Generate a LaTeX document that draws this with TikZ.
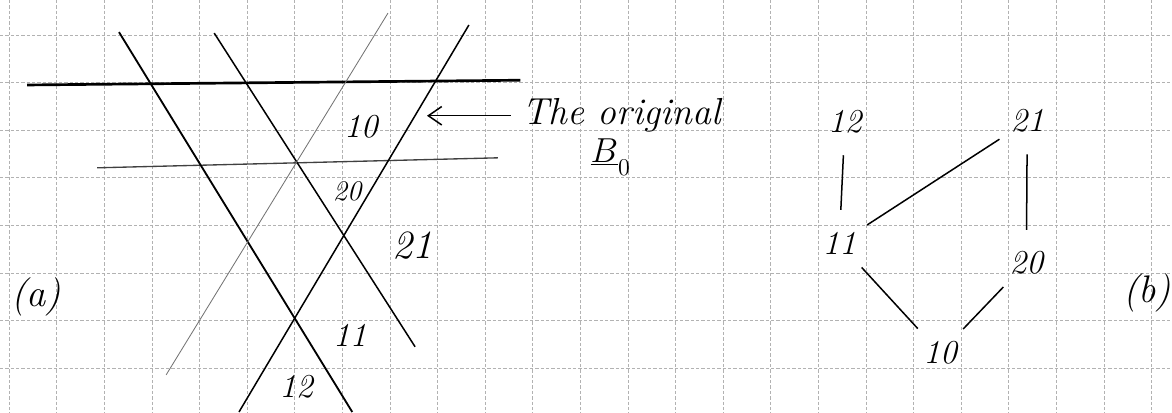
\documentclass[tikz,border=0pt]{standalone}
\usetikzlibrary{arrows.meta}

\begin{document}
\begin{tikzpicture}[x=1cm,y=-1cm,font=\fontsize{20}{24}\selectfont\itshape,
  gridline/.style={gray!60,line width=0.4pt,dash pattern=on 2pt off 1.2pt},
  pen/.style={line width=0.9pt},
  vert/.style={circle,minimum size=1.38cm,inner sep=0pt}]
  \useasboundingbox (-0.19,-0.735) rectangle (24.43,7.94);
  % squared paper
  \foreach \c in {0,...,24}
    \draw[gridline] (\c,-0.735) -- (\c,7.94);
  \foreach \r in {0,...,7}
    \draw[gridline] (-0.19,\r) -- (24.43,\r);

  % (a): the lines
  \draw[line width=1.6pt] (0.38,1.05) -- (10.74,0.95);
  \draw[line width=0.8pt,black!75] (1.85,2.79) -- (10.27,2.58);
  \draw[line width=1.1pt] (2.31,-0.06) -- (7.21,7.92);
  \draw[pen] (4.31,-0.04) -- (8.53,6.55);
  \draw[line width=0.5pt,black!55] (7.96,-0.46) -- (3.30,7.14);
  \draw[pen] (9.66,-0.21) -- (4.83,7.92);
  % labels
  \node (a10) at (7.39,1.93) {10};
  \node[font=\fontsize{17}{20}\selectfont\itshape] (a20) at (7.10,3.28) {20};
  \node[font=\fontsize{24}{28}\selectfont\itshape] (a21) at (8.47,4.43) {21};
  \node (a11) at (7.16,6.30) {11};
  \node (a12) at (6.03,7.39) {12};
  \node[font=\fontsize{23}{28}\selectfont\itshape] (capa) at (0.57,5.50) {(a)};
  % pointer to B_0
  \coordinate (tip) at (8.78,1.72);
  \node[anchor=base west,inner sep=0pt,font=\fontsize{22.5}{26}\selectfont\itshape] (orig) at (10.78,1.89) {The original};
  \node[anchor=base west,inner sep=0pt,font=\fontsize{22}{26}\selectfont] (bnot) at (12.21,2.67)
    {$\underline{B}_{\lower5pt\hbox{$\scriptstyle 0$}}$};
  \draw[pen,-{Straight Barb[length=8pt,width=11pt]}] ([xshift=-7pt]orig.west) -- (orig.west -| tip);

  % (b): the graph
  \node[vert] (n12) at (17.56,1.83) {12};
  \node[vert] (n21) at (21.39,1.81) {21};
  \node[vert] (n11) at (17.44,4.37) {11};
  \node[vert] (n20) at (21.37,4.79) {20};
  \node[vert] (n10) at (19.56,6.68) {10};
  \foreach \a/\b in {n12/n11,n21/n20,n11/n21,n11/n10,n10/n20}
    \draw[pen] (\a) -- (\b);
  \node[font=\fontsize{23}{28}\selectfont\itshape] (capb) at (23.91,5.42) {(b)};
\end{tikzpicture}
\end{document}
